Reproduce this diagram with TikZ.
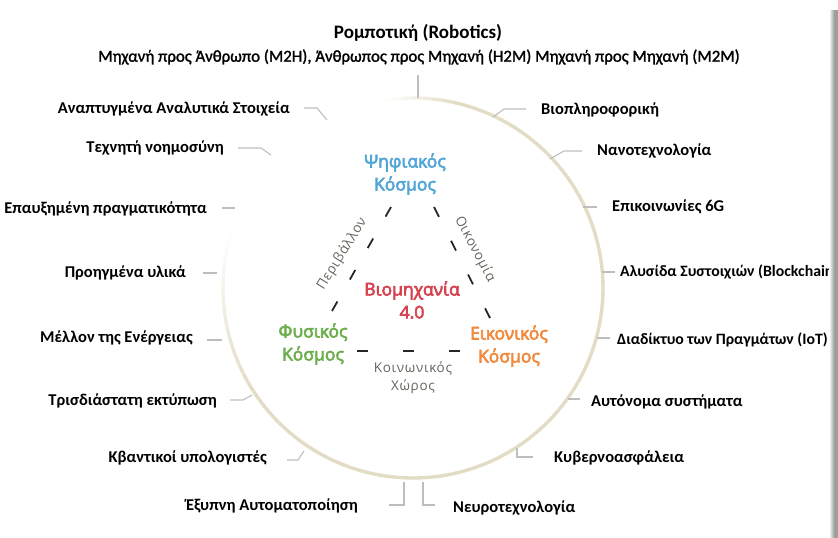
\documentclass[tikz,border=0pt]{standalone}
\usepackage{fontspec}
\setmainfont{Carlito}
\newfontfamily\worldfont{Open Sans}[FakeBold=3.5]
\newfontfamily\subfont{Carlito}[FakeBold=1.5]
\newfontfamily\spacedfont{Open Sans}[LetterSpace=5]
\usetikzlibrary{calc}

\definecolor{digitalBlue}{RGB}{82,166,214}
\definecolor{industryRed}{RGB}{214,66,80}
\definecolor{physGreen}{RGB}{108,174,78}
\definecolor{virtOrange}{RGB}{240,138,60}
\definecolor{axisGrey}{RGB}{100,101,92}
\definecolor{connGrey}{RGB}{190,190,190}
\definecolor{ringBeige}{RGB}{226,220,196}

\tikzset{
  lbl/.style={font=\fontsize{16.5}{18}\selectfont\bfseries, text=black, inner sep=0pt},
  lblL/.style={lbl, anchor=mid east},
  lblR/.style={lbl, anchor=mid west},
  conn/.style={draw=connGrey, line width=1.1pt},
  world/.style={font=\worldfont\fontsize{17.5}{23}\selectfont, align=center, inner sep=0pt},
  axislbl/.style={font=\spacedfont\fontsize{13.5}{18}\selectfont, text=axisGrey, align=center, inner sep=0pt},
  tri/.style={draw=black!85, line width=1.8pt}
}

\begin{document}
\begin{tikzpicture}[x=1pt,y=-1pt]
\useasboundingbox (0,0) rectangle (838,538);
\clip (0,0) rectangle (838,538);

% ring around the centre, fading out towards the upper left
\coordinate (c) at (413,288);
\foreach \a in {-102,-99,...,198}{
  \pgfmathsetmacro\op{max(0,min(1,(\a+100)/22,(196-\a)/50))}
  \draw[ringBeige, line width=3.4pt, draw opacity=\op]
    ($(c)+(\a:190)$) arc[start angle=\a, end angle=\a+3, radius=190];
}

% heading
\node[font=\fontsize{19}{21}\selectfont\bfseries, inner sep=0pt] (robot) at (418,33) {Ρομποτική (Robotics)};
\node[font=\subfont\fontsize{16.8}{19}\selectfont, inner sep=0pt] (modes) at (419,57)
  {Μηχανή προς Άνθρωπο (M2H), Άνθρωπος προς Μηχανή (H2M) Μηχανή προς Μηχανή (M2M)};
\coordinate (t0) at (418,75);
\coordinate (t1) at (418,98);
\draw[conn] (t0) -- (t1);

% labels on the left
\node[lblL] (l1) at (290,111) {Αναπτυγμένα Αναλυτικά Στοιχεία};
\node[lblL] (l2) at (224,150) {Τεχνητή νοημοσύνη};
\node[lblL] (l3) at (207,211) {Επαυξημένη πραγματικότητα};
\node[lblL] (l4) at (186,275) {Προηγμένα υλικά};
\node[lblL] (l5) at (193,340) {Μέλλον της Ενέργειας};
\node[lblL] (l6) at (217,403) {Τρισδιάστατη εκτύπωση};
\node[lblL] (l7) at (267,460) {Κβαντικοί υπολογιστές};
\node[lblL] (l8) at (358,508) {Έξυπνη Αυτοματοποίηση};

% labels on the right
\node[lblR] (r1) at (541,112) {Βιοπληροφορική};
\node[lblR] (r2) at (597,153) {Νανοτεχνολογία};
\node[lblR] (r3) at (612,209) {Επικοινωνίες 6G};
\node[lblR, font=\fontsize{15.8}{18}\selectfont\bfseries] (r4) at (620,274) {Αλυσίδα Συστοιχιών (Blockchain)};
\node[lblR, font=\fontsize{15.8}{18}\selectfont\bfseries] (r5) at (617,342) {Διαδίκτυο των Πραγμάτων (IoT)};
\node[lblR] (r6) at (591,404) {Αυτόνομα συστήματα};
\node[lblR] (r7) at (554,460) {Κυβερνοασφάλεια};
\node[lblR] (r8) at (453,510) {Νευροτεχνολογία};

% leader lines, left side
\draw[conn] (304,108) coordinate (a1) -- (317,108) -- (327,120) coordinate (b1);
\draw[conn] (238,148) coordinate (a2) -- (261,148) -- (271,155) coordinate (b2);
\draw[conn] (222,208) coordinate (a3) -- (235,208) coordinate (b3);
\draw[conn] (203,273) coordinate (a4) -- (217,273) coordinate (b4);
\draw[conn] (207,340) coordinate (a5) -- (222,340) coordinate (b5);
\draw[conn] (230,400) coordinate (a6) -- (243,400) -- (252,395) coordinate (b6);
\draw[conn] (287,460) coordinate (a7) -- (298,460) -- (304,451) coordinate (b7);
\draw[conn] (389,505) coordinate (a8) -- (404,505) -- (404,482) coordinate (b8);

% leader lines, right side
\draw[conn] (526,109) coordinate (p1) -- (504,109) -- (493,117) coordinate (q1);
\draw[conn] (582,151) coordinate (p2) -- (564,151) -- (550,159) coordinate (q2);
\draw[conn] (597,207) coordinate (p3) -- (583,207) coordinate (q3);
\draw[conn] (615,272) coordinate (p4) -- (602,272) coordinate (q4);
\draw[conn] (610,338) coordinate (p5) -- (597,338) coordinate (q5);
\draw[conn] (580,399) coordinate (p6) -- (568,399) coordinate (q6);
\draw[conn] (533,457) coordinate (p7) -- (517,457) -- (517,448) coordinate (q7);
\draw[conn] (435,505) coordinate (p8) -- (423,505) -- (423,482) coordinate (q8);

% the three worlds and the centre
\node[world, text=digitalBlue] (digital) at (405,174) {Ψηφιακός\\Κόσμος};
\node[world, text=physGreen] (physical) at (313,344) {Φυσικός\\Κόσμος};
\node[world, text=virtOrange] (virtual) at (509,346) {Εικονικός\\Κόσμος};
\node[world, text=industryRed] (industry) at (412,300) {Βιομηχανία\\4.0};

% dashed triangle
\coordinate (dl) at (391,207);
\coordinate (dr) at (434,207);
\coordinate (pl) at (332,311);
\coordinate (vr) at (490,318);
\coordinate (bl) at (357,351);
\coordinate (br) at (460,351);
\draw[tri, dash pattern=on 11pt off 25.2pt] (dl) -- (pl);
\draw[tri, dash pattern=on 11pt off 26.8pt] (dr) -- (vr);
\draw[tri, dash pattern=on 11pt off 35pt] (bl) -- (br);

% side names
\node[axislbl, rotate=58] (env) at (342,254) {Περιβάλλον};
\node[axislbl, rotate=-62] (eco) at (475,249) {Οικονομία};
\node[axislbl] (soc) at (413,378) {Κοινωνικός\\Χώρος};

% shaded page edge
\shade[left color=white, right color=black!45] (829,10) rectangle (835,538);
\fill[black!38] (835,10) rectangle (838,538);
\end{tikzpicture}
\end{document}
